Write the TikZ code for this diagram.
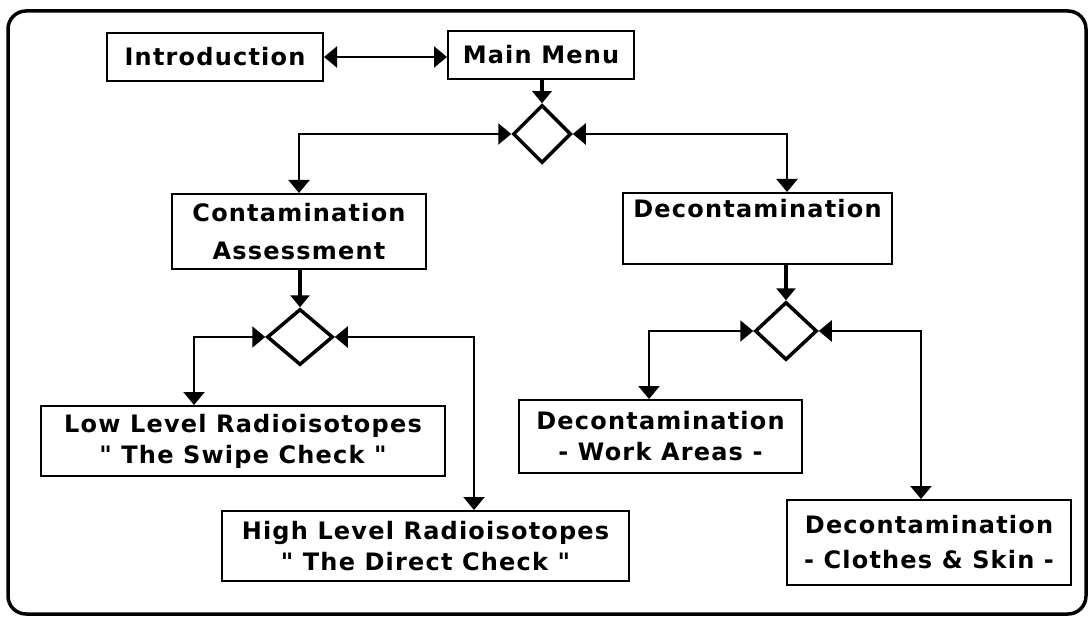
\documentclass[tikz,border=0pt]{standalone}
\usepackage{fontspec}
\setmainfont{DejaVu Sans}[LetterSpace=5]
\usetikzlibrary{arrows.meta,shapes.geometric}
\newcommand{\dq}{\XeTeXglyph\the\XeTeXcharglyph"22\relax}
\begin{document}
\begin{tikzpicture}[x=1pt,y=-1pt,
  box/.style={draw,line width=2pt,rectangle,inner sep=0pt,align=center,
    font=\fontsize{24}{31}\selectfont\bfseries},
  dia/.style={draw,line width=3.5pt,diamond,inner sep=0pt},
  tri/.tip={Triangle[width=21pt,length=13pt]},
  conn/.style={line width=2.2pt,tri-tri},
  downarr/.style={line width=4pt,-{Triangle[width=19pt,length=12pt]}},
  frame/.style={draw,line width=3.5pt,rounded corners=18pt}]
\useasboundingbox (0,0) rectangle (1089,620);
\draw[frame] (8,11) rectangle (1086,614);

\node[box,minimum width=216pt,minimum height=48pt] (intro) at (215,57) {Introduction};
\node[box,minimum width=186pt,minimum height=48pt] (main) at (541,55) {Main Menu};
\node[box,minimum width=254pt,minimum height=75pt,font=\fontsize{24}{38}\selectfont\bfseries] (ca) at (299,231.5) {Contamination\\Assessment};
\node[box,minimum width=269pt,minimum height=71pt] (decon) at (757.5,228.5) {Decontamination\\\strut};
\node[box,minimum width=404pt,minimum height=70pt] (low) at (243,441) {Low Level Radioisotopes\\\dq{} The Swipe Check \dq};
\node[box,minimum width=407pt,minimum height=70pt] (high) at (425.5,546) {High Level Radioisotopes\\\dq{} The Direct Check \dq};
\node[box,minimum width=283pt,minimum height=73pt] (dw) at (660.5,436.5) {Decontamination\\- Work Areas -};
\node[box,minimum width=284pt,minimum height=85pt,font=\fontsize{24}{35}\selectfont\bfseries] (dcs) at (929,542.5) {Decontamination\\- Clothes \& Skin -};

\node[dia,minimum width=58pt,minimum height=58pt] (d1) at (542,134) {};
\node[dia,minimum width=66pt,minimum height=56pt] (d2) at (300,337) {};
\node[dia,minimum width=62pt,minimum height=58pt] (d3) at (786,331) {};

\coordinate (xdec) at (787,0);
\coordinate (xlow) at (194,0);
\coordinate (xhigh) at (474,0);
\coordinate (xdw) at (649,0);
\coordinate (xdcs) at (921,0);

\draw[conn] (intro.east) -- (intro.east -| main.west);
\draw[downarr] (d1.north |- main.south) -- (d1.north);
\draw[conn] (d1.west) -| (ca.north);
\draw[conn] (d1.east) -| (decon.north -| xdec);
\draw[downarr] (d2.north |- ca.south) -- (d2.north);
\draw[conn] (d2.west) -| (low.north -| xlow);
\draw[conn] (d2.east) -| (high.north -| xhigh);
\draw[downarr] (d3.north |- decon.south) -- (d3.north);
\draw[conn] (d3.west) -| (dw.north -| xdw);
\draw[conn] (d3.east) -| (dcs.north -| xdcs);
\end{tikzpicture}
\end{document}
